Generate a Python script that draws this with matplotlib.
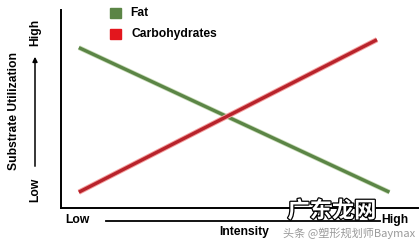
import matplotlib
matplotlib.use("Agg")
import matplotlib.pyplot as plt
import matplotlib.patheffects as pe
from matplotlib.patches import Rectangle

# ---- data ----
intensity_fat = [0.05, 0.92]
fat_util = [0.81, 0.08]
intensity_carb = [0.05, 0.885]
carb_util = [0.08, 0.85]
legend_labels = ["Fat", "Carbohydrates"]
x_label = "Intensity"
y_label = "Substrate Utilization"
low_high = ["Low", "High"]

W, H = 419, 246
fig = plt.figure(figsize=(W / 100, H / 100), dpi=100)
plt.rcParams['font.family'] = ['Liberation Sans', 'DejaVu Sans']

def fx(px):
    return px / W

def fy(py):
    return 1 - py / H

ax = fig.add_axes([fx(61), fy(208), fx(418) - fx(61), fy(10) - fy(208)])
ax.set_xlim(0, 1)
ax.set_ylim(0, 1)
for s in ["top", "right"]:
    ax.spines[s].set_visible(False)
for s in ["left", "bottom"]:
    ax.spines[s].set_linewidth(1.4)
    ax.spines[s].set_color("black")
ax.set_xticks([])
ax.set_yticks([])

green = "#5b8546"
red_line = "#b8232b"
ax.plot(intensity_fat, fat_util, color=green, lw=2.4, solid_capstyle="butt",
        path_effects=[pe.Stroke(linewidth=3.5, foreground="#c9dcb8"), pe.Normal()])
ax.plot(intensity_carb, carb_util, color=red_line, lw=2.4, solid_capstyle="butt",
        path_effects=[pe.Stroke(linewidth=3.8, foreground="#f4a0a0"), pe.Normal()])

# legend
fig.patches.append(Rectangle((fx(110), fy(17.5)), fx(10.5), fy(7.5) - fy(17.5),
                             transform=fig.transFigure, color=green, figure=fig))
fig.patches.append(Rectangle((fx(110), fy(38.5)), fx(10.5), fy(28.5) - fy(38.5),
                             transform=fig.transFigure, color="#e3161d", figure=fig))
fs = 8.7
fig.text(fx(130), fy(12.5), legend_labels[0], fontsize=fs, fontweight="bold", va="center", ha="left")
fig.text(fx(131), fy(34), legend_labels[1], fontsize=fs, fontweight="bold", va="center", ha="left")

# y axis descriptor
fig.text(fx(14), fy(111), y_label, fontsize=fs, fontweight="bold", rotation=90, va="center", ha="center")
fig.text(fx(35), fy(190), low_high[0], fontsize=fs, fontweight="bold", rotation=90, va="center", ha="center")
fig.text(fx(35), fy(32), low_high[1], fontsize=fs, fontweight="bold", rotation=90, va="center", ha="center")
fig.add_artist(matplotlib.patches.FancyArrowPatch((fx(35), fy(169)), (fx(35), fy(54)),
               transform=fig.transFigure, arrowstyle="-|>", mutation_scale=7, lw=1.1, color="black"))

# x axis descriptor
fig.text(fx(77), fy(220), low_high[0], fontsize=fs, fontweight="bold", va="center", ha="center")
fig.text(fx(395), fy(220), low_high[1], fontsize=fs, fontweight="bold", va="center", ha="center")
fig.text(fx(244), fy(232), x_label, fontsize=fs, fontweight="bold", va="center", ha="center")
fig.add_artist(matplotlib.lines.Line2D([fx(106), fx(380)], [fy(221), fy(221)],
               transform=fig.transFigure, lw=1.3, color="black"))

# watermark
fig.text(fx(332), fy(211), "广东龙网", fontsize=16, fontweight="bold", color="white",
         va="center", ha="center", family=["Noto Sans CJK SC", "DejaVu Sans"],
         path_effects=[pe.withStroke(linewidth=1.8, foreground="black")])
fig.text(fx(349), fy(233), "头条 @塑形规划师Baymax", fontsize=8, color="#9a9a9a",
         va="center", ha="center", family=["Noto Sans CJK SC", "DejaVu Sans"])

fig.savefig("out.png", dpi=100, facecolor="white")
